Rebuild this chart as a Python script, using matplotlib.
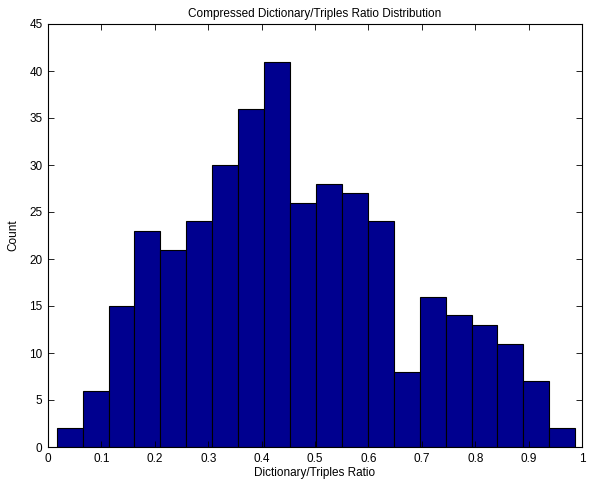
import numpy as np
import matplotlib.pyplot as plt

plt.rcParams['font.family'] = ['Liberation Sans', 'DejaVu Sans']

# histogram counts (20 bins)
counts = [2, 6, 15, 23, 21, 24, 30, 36, 41, 26, 28, 27, 24, 8, 16, 14, 13, 11, 7, 2]
bin_lo = 0.0163
bin_hi = 0.9873

edges = np.linspace(bin_lo, bin_hi, len(counts) + 1)
widths = np.diff(edges)

fig = plt.figure(figsize=(5.9, 4.82), dpi=100)
ax = fig.add_axes([48 / 590, 35 / 482, 534 / 590, 423 / 482])

ax.bar(edges[:-1], counts, width=widths, align='edge',
       color='#00008F', edgecolor='black', linewidth=0.8)

ax.set_xlim(0, 1)
ax.set_ylim(0, 45)
ax.set_xticks(np.arange(0, 1.01, 0.1))
ax.set_xticklabels(['0', '0.1', '0.2', '0.3', '0.4', '0.5', '0.6', '0.7', '0.8', '0.9', '1'])
ax.set_yticks(np.arange(0, 46, 5))
ax.tick_params(direction='in', top=True, right=True, labelsize=8.5, length=4, width=0.6, pad=4)
for s in ax.spines.values():
    s.set_linewidth(0.8)

ax.set_title("Compressed Dictionary/Triples Ratio Distribution", fontsize=8.5, pad=5)
ax.set_xlabel("Dictionary/Triples Ratio", fontsize=8.5, labelpad=2)
ax.set_ylabel("Count", fontsize=8.5, labelpad=7)

fig.savefig("out.png", dpi=100)
